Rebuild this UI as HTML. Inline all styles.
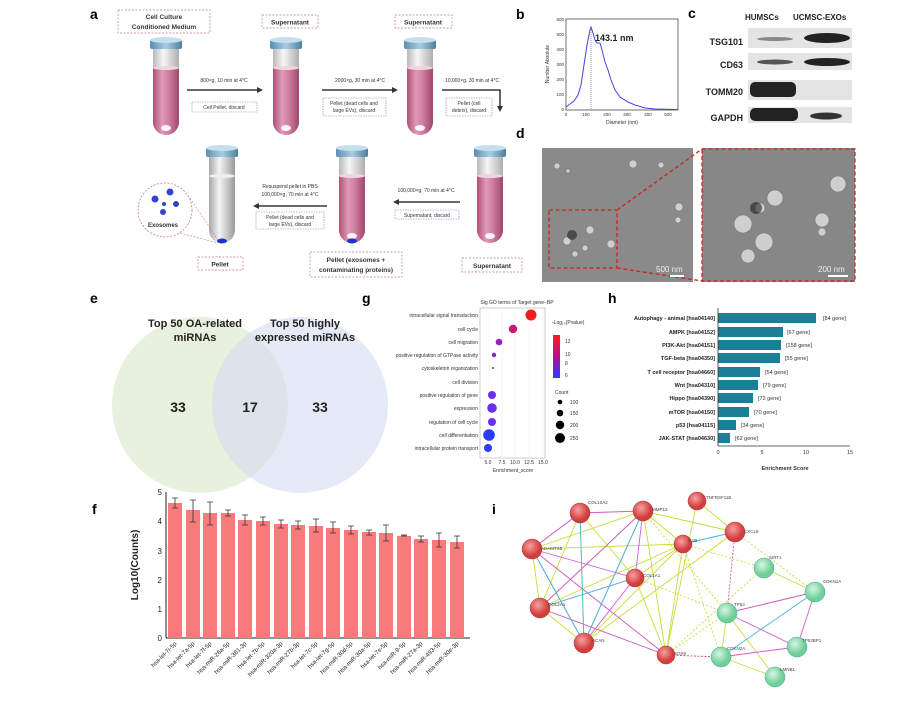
<!DOCTYPE html>
<html><head><meta charset="utf-8"><style>
body{margin:0;background:#fff}
svg{display:block;font-family:"Liberation Sans",sans-serif}
</style></head><body>
<svg width="900" height="701" viewBox="0 0 900 701" xmlns="http://www.w3.org/2000/svg">
<defs>
<linearGradient id="tg" x1="0" x2="1"><stop offset="0" stop-color="#b04f77"/><stop offset="0.35" stop-color="#df9ab6"/><stop offset="0.6" stop-color="#d07fa0"/><stop offset="1" stop-color="#a0466b"/></linearGradient>
<linearGradient id="gg" x1="0" x2="1"><stop offset="0" stop-color="#a8a8a8"/><stop offset="0.4" stop-color="#f4f4f4"/><stop offset="1" stop-color="#9a9a9a"/></linearGradient>
<linearGradient id="cap" x1="0" x2="1"><stop offset="0" stop-color="#5b8fb0"/><stop offset="0.5" stop-color="#a8cde2"/><stop offset="1" stop-color="#4b7f9f"/></linearGradient>
<linearGradient id="cb" x1="0" y1="0" x2="0" y2="1"><stop offset="0" stop-color="#ff1a1a"/><stop offset="0.5" stop-color="#b0148c"/><stop offset="1" stop-color="#2a3bff"/></linearGradient>
<radialGradient id="rn" cx="0.4" cy="0.35"><stop offset="0" stop-color="#f7a0a0"/><stop offset="1" stop-color="#d23d3d"/></radialGradient>
<radialGradient id="gn" cx="0.4" cy="0.35"><stop offset="0" stop-color="#d6f5e3"/><stop offset="1" stop-color="#6fcf99"/></radialGradient>
<g id="tube">
<path d="M-13,8 L-13,82 A13,13 0 0 0 13,82 L13,8 Z" fill="url(#gg)" opacity="0.8"/>
<path d="M-13,28 L-13,82 A13,13 0 0 0 13,82 L13,28 Z" fill="url(#tg)"/>
<ellipse cx="0" cy="28" rx="13" ry="2" fill="#f2d3e0"/>
<ellipse cx="0" cy="88" rx="5" ry="3" fill="#fff" opacity="0.9"/>
<rect x="-16" y="0" width="32" height="9" rx="2" fill="url(#cap)"/>
<ellipse cx="0" cy="0" rx="16" ry="3" fill="#c6dfee"/>
</g>
<g id="gtube">
<path d="M-13,8 L-13,82 A13,13 0 0 0 13,82 L13,8 Z" fill="url(#gg)"/>
<ellipse cx="0" cy="28" rx="13" ry="2" fill="#eee"/>
<rect x="-16" y="0" width="32" height="9" rx="2" fill="url(#cap)"/>
<ellipse cx="0" cy="0" rx="16" ry="3" fill="#c6dfee"/>
</g>
</defs>
<rect width="900" height="701" fill="#fff"/>

<!-- panel a -->
<text x="90" y="19" font-size="14" font-weight="bold">a</text>
<g font-size="6" text-anchor="middle" fill="#333">
<rect x="118" y="10" width="92" height="23" fill="none" stroke="#c57a8a" stroke-dasharray="2,1.5" stroke-width="0.7"/>
<text x="164" y="19" font-weight="bold" font-size="6.5">Cell Culture</text><text x="164" y="29" font-weight="bold" font-size="6.5">Conditioned Medium</text>
<rect x="262" y="15" width="56" height="13" fill="none" stroke="#c57a8a" stroke-dasharray="2,1.5" stroke-width="0.7"/>
<text x="290" y="24.5" font-weight="bold" font-size="6.5">Supernatant</text>
<rect x="395" y="15" width="57" height="13" fill="none" stroke="#c57a8a" stroke-dasharray="2,1.5" stroke-width="0.7"/>
<text x="423" y="24.5" font-weight="bold" font-size="6.5">Supernatant</text>
<use href="#tube" x="166" y="40"/><use href="#tube" x="286" y="40"/><use href="#tube" x="420" y="40"/>
<use href="#gtube" x="222" y="148"/><use href="#tube" x="352" y="148"/><use href="#tube" x="490" y="148"/>
<ellipse cx="222" cy="241" rx="5" ry="2.5" fill="#2233cc"/>
<ellipse cx="352" cy="241" rx="5" ry="2.5" fill="#2233cc"/>
<line x1="187" y1="90" x2="258" y2="90" stroke="#111" stroke-width="1.3"/><path d="M263,90 l-6,-3 v6z"/>
<text x="224" y="82" font-size="5">800×g, 10 min at 4°C</text>
<rect x="192" y="102" width="65" height="10" fill="none" stroke="#8877bb" stroke-dasharray="1.5,1" stroke-width="0.6"/><text x="224" y="109" font-size="5">Cell Pellet, discard</text>
<line x1="322" y1="90" x2="393" y2="90" stroke="#111" stroke-width="1.3"/><path d="M398,90 l-6,-3 v6z"/>
<text x="360" y="82" font-size="5">2000×g, 30 min at 4°C</text>
<rect x="323" y="98" width="63" height="18" fill="none" stroke="#8877bb" stroke-dasharray="1.5,1" stroke-width="0.6"/><text x="354" y="105" font-size="5">Pellet (dead cells and</text><text x="354" y="112" font-size="5">large EVs), discard</text>
<path d="M442,90 H500 V107" fill="none" stroke="#111" stroke-width="1.3"/><path d="M500,112 l-3,-6 h6z"/>
<text x="472" y="82" font-size="5">10,000×g, 30 min at 4°C</text>
<rect x="446" y="98" width="46" height="18" fill="none" stroke="#8877bb" stroke-dasharray="1.5,1" stroke-width="0.6"/><text x="469" y="105" font-size="5">Pellet (cell</text><text x="469" y="112" font-size="5">debris), discard</text>
<line x1="398" y1="202" x2="460" y2="202" stroke="#111" stroke-width="1.3"/><path d="M393,202 l6,-3 v6z"/>
<text x="426" y="192" font-size="5">100,000×g, 70 min at 4°C</text>
<rect x="395" y="210" width="64" height="9" fill="none" stroke="#8877bb" stroke-dasharray="1.5,1" stroke-width="0.6"/><text x="427" y="217" font-size="5">Supernatant, discard</text>
<line x1="258" y1="206" x2="327" y2="206" stroke="#111" stroke-width="1.3"/><path d="M253,206 l6,-3 v6z"/>
<text x="290" y="188" font-size="5">Resuspend pellet in PBS</text><text x="290" y="196" font-size="5">100,000×g, 70 min at 4°C</text>
<rect x="256" y="212" width="68" height="17" fill="none" stroke="#8877bb" stroke-dasharray="1.5,1" stroke-width="0.6"/><text x="290" y="219" font-size="5">Pellet (dead cells and</text><text x="290" y="226" font-size="5">large EVs), discard</text>
<circle cx="165" cy="210" r="27" fill="#fff" stroke="#c57a8a" stroke-dasharray="2,1.5" stroke-width="0.8"/>
<line x1="180" y1="233" x2="218" y2="243" stroke="#c57a8a" stroke-dasharray="2,1.5" stroke-width="0.6"/>
<line x1="190" y1="198" x2="218" y2="240" stroke="#c57a8a" stroke-dasharray="2,1.5" stroke-width="0.6"/>
<circle cx="155" cy="199" r="3.5" fill="#3344cc"/><circle cx="170" cy="192" r="3.5" fill="#3344cc"/><circle cx="164" cy="204" r="2" fill="#3344cc"/><circle cx="176" cy="204" r="3" fill="#3344cc"/><circle cx="163" cy="212" r="3" fill="#3344cc"/>
<text x="163" y="227" font-size="6" font-weight="bold">Exosomes</text>
<rect x="198" y="257" width="45" height="13" fill="none" stroke="#c57a8a" stroke-dasharray="2,1.5" stroke-width="0.7"/><text x="220" y="266.5" font-weight="bold" font-size="6.5">Pellet</text>
<rect x="310" y="252" width="92" height="25" fill="none" stroke="#c57a8a" stroke-dasharray="2,1.5" stroke-width="0.7"/><text x="356" y="262" font-weight="bold" font-size="6.5">Pellet (exosomes +</text><text x="356" y="272" font-weight="bold" font-size="6.5">contaminating proteins)</text>
<rect x="462" y="258" width="60" height="14" fill="none" stroke="#c57a8a" stroke-dasharray="2,1.5" stroke-width="0.7"/><text x="492" y="268" font-weight="bold" font-size="6.5">Supernatant</text>
</g>

<!-- panel b -->
<text x="516" y="19" font-size="14" font-weight="bold">b</text>
<rect x="566" y="19" width="112" height="91" fill="none" stroke="#333" stroke-width="0.7"/>
<g font-size="4.5" fill="#333" text-anchor="end">
<text x="564" y="21">600</text><text x="564" y="36">500</text><text x="564" y="51">400</text><text x="564" y="66">300</text><text x="564" y="81">200</text><text x="564" y="96">100</text><text x="564" y="111">0</text></g>
<g font-size="4.5" fill="#333" text-anchor="middle"><text x="566" y="116">0</text><text x="586" y="116">100</text><text x="607" y="116">200</text><text x="627" y="116">300</text><text x="648" y="116">400</text><text x="668" y="116">500</text></g>
<text x="622" y="124" font-size="5" text-anchor="middle" fill="#333">Diameter (nm)</text>
<text transform="translate(549,64) rotate(-90)" font-size="5" text-anchor="middle" fill="#333">Number Absolute</text>
<line x1="591" y1="28" x2="591" y2="110" stroke="#555" stroke-dasharray="1,1" stroke-width="0.6"/>
<polyline fill="none" stroke="#4444dd" stroke-width="1" points="566,107 570,104 574,101 578,95 581,85 584,65 587,45 590,30 591,27 593,33 595,40 597,43 600,43 602,50 605,62 608,70 611,80 615,90 620,97 628,102 635,105 645,108 655,109 678,109.5"/>
<text x="595" y="41" font-size="9" font-weight="bold" fill="#222">143.1 nm</text>

<!-- panel c -->
<text x="688" y="18" font-size="14" font-weight="bold">c</text>
<text x="745" y="20" font-size="8" fill="#222" font-weight="bold">HUMSCs</text>
<text x="793" y="20" font-size="8" fill="#222" font-weight="bold">UCMSC-EXOs</text>
<g font-size="9" font-weight="bold" fill="#222" text-anchor="end">
<text x="743" y="45">TSG101</text><text x="743" y="68">CD63</text><text x="743" y="95">TOMM20</text><text x="743" y="121">GAPDH</text></g>
<g fill="#e4e4e4"><rect x="748" y="28" width="104" height="20"/><rect x="748" y="53" width="104" height="17"/><rect x="748" y="80" width="104" height="20"/><rect x="748" y="107" width="104" height="16"/></g>
<g fill="#222">
<ellipse cx="775" cy="39" rx="18" ry="2" fill="#888"/><ellipse cx="827" cy="38" rx="23" ry="5"/>
<ellipse cx="775" cy="62" rx="18" ry="2.5" fill="#555"/><ellipse cx="827" cy="62" rx="23" ry="4"/>
<rect x="750" y="82" width="46" height="15" rx="5"/>
<rect x="750" y="108" width="48" height="13" rx="5"/><ellipse cx="826" cy="116" rx="16" ry="3.5" fill="#333"/>
</g>

<!-- panel d -->
<text x="516" y="138" font-size="14" font-weight="bold">d</text>
<rect x="542" y="148" width="151" height="134" fill="#8a8a8a"/>
<rect x="702" y="148" width="153" height="134" fill="#878787"/>
<g fill="#cfcfcf" stroke="#777" stroke-width="0.6">
<circle cx="557" cy="166" r="3"/><circle cx="633" cy="164" r="4"/><circle cx="661" cy="165" r="3"/><circle cx="679" cy="207" r="4"/><circle cx="611" cy="244" r="4"/><circle cx="590" cy="230" r="4"/><circle cx="585" cy="248" r="3"/><circle cx="567" cy="241" r="4"/><circle cx="575" cy="254" r="3"/><circle cx="678" cy="220" r="3"/><circle cx="568" cy="171" r="2"/>
<circle cx="775" cy="198" r="8"/><circle cx="760" cy="208" r="5"/><circle cx="743" cy="224" r="9"/><circle cx="764" cy="242" r="9"/><circle cx="748" cy="256" r="7"/><circle cx="822" cy="220" r="7"/><circle cx="822" cy="232" r="4"/><circle cx="838" cy="184" r="8"/>
</g>
<circle cx="572" cy="235" r="5" fill="#222" opacity="0.6"/>
<circle cx="756" cy="208" r="6" fill="#222" opacity="0.6"/>
<g fill="none" stroke="#d42020" stroke-width="1.3" stroke-dasharray="4,2.5">
<rect x="549" y="210" width="68" height="58"/>
<rect x="702" y="149" width="153" height="132"/>
<line x1="617" y1="210" x2="702" y2="149"/><line x1="617" y1="268" x2="702" y2="281"/>
</g>
<text x="656" y="272" font-size="8" fill="#eee">500 nm</text><rect x="670" y="275" width="14" height="2" fill="#fff"/>
<text x="818" y="272" font-size="8" fill="#eee">200 nm</text><rect x="828" y="275" width="20" height="2" fill="#fff"/>

<!-- panel e -->
<text x="90" y="303" font-size="14" font-weight="bold">e</text>
<circle cx="200" cy="405" r="88" fill="#d9e6c8" opacity="0.6"/>
<circle cx="300" cy="405" r="88" fill="#d4dcf0" opacity="0.6"/>
<g font-size="11" font-weight="bold" text-anchor="middle" fill="#222">
<text x="195" y="327">Top 50 OA-related</text><text x="195" y="341">miRNAs</text>
<text x="305" y="327">Top 50 highly</text><text x="305" y="341">expressed miRNAs</text>
<text x="178" y="412" font-size="14">33</text><text x="250" y="412" font-size="14">17</text><text x="320" y="412" font-size="14">33</text></g>

<!-- panel g -->
<text x="362" y="303" font-size="14" font-weight="bold">g</text>
<text x="517" y="304" font-size="5" text-anchor="middle" fill="#333">Sig GO terms of Target gene−BP</text>
<rect x="480" y="308" width="65" height="150" fill="#fff" stroke="#aaa" stroke-width="0.6"/>
<g stroke="#eee" stroke-width="0.5"><line x1="488" y1="308" x2="488" y2="458"/><line x1="502" y1="308" x2="502" y2="458"/><line x1="515" y1="308" x2="515" y2="458"/><line x1="529" y1="308" x2="529" y2="458"/><line x1="543" y1="308" x2="543" y2="458"/></g>
<g font-size="5" fill="#333" text-anchor="end">
<text x="478" y="317">intracellular signal transduction</text><text x="478" y="331">cell cycle</text><text x="478" y="344">cell migration</text><text x="478" y="357">positive regulation of GTPase activity</text><text x="478" y="370">cytoskeleton organization</text><text x="478" y="384">cell division</text><text x="478" y="397">positive regulation of gene</text><text x="478" y="410">expression</text><text x="478" y="424">regulation of cell cycle</text><text x="478" y="437">cell differentiation</text><text x="478" y="450">intracellular protein transport</text></g>
<circle cx="531" cy="315" r="5.5" fill="#f41c1c"/><circle cx="513" cy="329" r="4.2" fill="#cc1870"/><circle cx="499" cy="342" r="3.3" fill="#9a1fc0"/><circle cx="494" cy="355" r="2.2" fill="#8a22d0"/><circle cx="493" cy="368" r="1" fill="#7a2ae0"/><circle cx="492" cy="395" r="4" fill="#6a2ef0"/><circle cx="492" cy="408" r="4.8" fill="#6a2ef0"/><circle cx="492" cy="422" r="4" fill="#6a2ef0"/><circle cx="489" cy="435" r="5.8" fill="#2c3bff"/><circle cx="488" cy="448" r="4" fill="#2c3bff"/>
<g font-size="5" fill="#333" text-anchor="middle"><text x="488" y="464">5.0</text><text x="502" y="464">7.5</text><text x="515" y="464">10.0</text><text x="529" y="464">12.5</text><text x="543" y="464">15.0</text><text x="513" y="472">Enrichment_score</text></g>
<text x="552" y="324" font-size="5" fill="#333">-Log₁₀(Pvalue)</text>
<rect x="553" y="335" width="7" height="43" fill="url(#cb)"/>
<g font-size="5" fill="#333"><text x="565" y="343">12</text><text x="565" y="356">10</text><text x="565" y="365">8</text><text x="565" y="377">6</text>
<text x="555" y="394">Count</text><text x="570" y="404">100</text><text x="570" y="415">150</text><text x="570" y="427">200</text><text x="570" y="440">250</text></g>
<circle cx="560" cy="402" r="2.3"/><circle cx="560" cy="413" r="3.3"/><circle cx="560" cy="425" r="4.2"/><circle cx="560" cy="438" r="5"/>

<!-- panel h -->
<text x="608" y="303" font-size="14" font-weight="bold">h</text>
<g fill="#1d7f97">
<rect x="718" y="313" width="98" height="10"/><rect x="718" y="327" width="65" height="10"/><rect x="718" y="340" width="63" height="10"/><rect x="718" y="353" width="62" height="10"/><rect x="718" y="367" width="42" height="10"/><rect x="718" y="380" width="40" height="10"/><rect x="718" y="393" width="35" height="10"/><rect x="718" y="407" width="31" height="10"/><rect x="718" y="420" width="18" height="10"/><rect x="718" y="433" width="12" height="10"/></g>
<line x1="718" y1="308" x2="718" y2="446" stroke="#333" stroke-width="0.8"/><line x1="718" y1="446" x2="850" y2="446" stroke="#333" stroke-width="0.8"/>
<g font-size="5.5" font-weight="bold" fill="#222" text-anchor="end">
<text x="715" y="320">Autophagy - animal [hsa04140]</text><text x="715" y="334">AMPK [hsa04152]</text><text x="715" y="347">PI3K-Akt [hsa04151]</text><text x="715" y="360">TGF-beta [hsa04350]</text><text x="715" y="374">T cell receptor [hsa04660]</text><text x="715" y="387">Wnt [hsa04310]</text><text x="715" y="400">Hippo [hsa04390]</text><text x="715" y="414">mTOR [hsa04150]</text><text x="715" y="427">p53 [hsa04115]</text><text x="715" y="440">JAK-STAT [hsa04630]</text></g>
<g font-size="5.5" fill="#333">
<text x="823" y="320">[84 gene]</text><text x="787" y="334">[67 gene]</text><text x="786" y="347">[158 gene]</text><text x="785" y="360">[55 gene]</text><text x="765" y="374">[54 gene]</text><text x="763" y="387">[79 gene]</text><text x="758" y="400">[72 gene]</text><text x="754" y="414">[70 gene]</text><text x="741" y="427">[34 gene]</text><text x="735" y="440">[62 gene]</text></g>
<g font-size="5.5" fill="#333" text-anchor="middle"><text x="718" y="454">0</text><text x="762" y="454">5</text><text x="806" y="454">10</text><text x="850" y="454">15</text><text x="785" y="470" font-weight="bold">Enrichment Score</text></g>

<!-- panel f -->
<text x="92" y="514" font-size="14" font-weight="bold">f</text>
<line x1="166" y1="492" x2="166" y2="638" stroke="#222" stroke-width="1"/><line x1="166" y1="638" x2="470" y2="638" stroke="#222" stroke-width="1"/>
<g font-size="8" text-anchor="end" fill="#222"><text x="162" y="641">0</text><text x="162" y="612">1</text><text x="162" y="583">2</text><text x="162" y="554">3</text><text x="162" y="524">4</text><text x="162" y="495">5</text></g>
<text transform="translate(138,565) rotate(-90)" font-size="10" font-weight="bold" text-anchor="middle" fill="#222">Log10(Counts)</text>
<g fill="#f87a7b">
<rect x="168" y="503" width="14" height="135"/><rect x="186" y="510" width="14" height="128"/><rect x="203" y="513" width="14" height="125"/><rect x="221" y="513" width="14" height="125"/><rect x="238" y="520" width="14" height="118"/><rect x="256" y="521" width="14" height="117"/><rect x="274" y="524" width="14" height="114"/><rect x="291" y="525" width="14" height="113"/><rect x="309" y="526" width="14" height="112"/><rect x="326" y="528" width="14" height="110"/><rect x="344" y="530" width="14" height="108"/><rect x="362" y="532" width="14" height="106"/><rect x="379" y="533" width="14" height="105"/><rect x="397" y="536" width="14" height="102"/><rect x="414" y="539" width="14" height="99"/><rect x="432" y="540" width="14" height="98"/><rect x="450" y="542" width="14" height="96"/></g>
<g stroke="#333" stroke-width="0.8" fill="none">
<path d="M175,498v10m-3,-10h6m-6,10h6"/><path d="M193,500v22m-3,-22h6m-6,22h6"/><path d="M210,502v23m-3,-23h6m-6,23h6"/><path d="M228,510v6m-3,-6h6m-6,6h6"/><path d="M245,515v10m-3,-10h6m-6,10h6"/><path d="M263,517v8m-3,-8h6m-6,8h6"/><path d="M281,520v8m-3,-8h6m-6,8h6"/><path d="M298,521v8m-3,-8h6m-6,8h6"/><path d="M316,519v13m-3,-13h6m-6,13h6"/><path d="M333,522v11m-3,-11h6m-6,11h6"/><path d="M351,526v8m-3,-8h6m-6,8h6"/><path d="M369,530v5m-3,-5h6m-6,5h6"/><path d="M386,525v16m-3,-16h6m-6,16h6"/><path d="M404,535v1m-3,-1h6m-6,1h6"/><path d="M421,536v6m-3,-6h6m-6,6h6"/><path d="M439,533v14m-3,-14h6m-6,14h6"/><path d="M457,536v12m-3,-12h6m-6,12h6"/></g>
<g font-size="6" fill="#222" text-anchor="end">
<text transform="translate(177,644) rotate(-45)">hsa-let-7i-5p</text><text transform="translate(195,644) rotate(-45)">hsa-let-7a-5p</text><text transform="translate(212,644) rotate(-45)">hsa-let-7f-5p</text><text transform="translate(230,644) rotate(-45)">hsa-miR-26a-5p</text><text transform="translate(247,644) rotate(-45)">hsa-miR-381-3p</text><text transform="translate(265,644) rotate(-45)">hsa-let-7b-5p</text><text transform="translate(283,644) rotate(-45)">hsa-miR-320a-3p</text><text transform="translate(300,644) rotate(-45)">hsa-miR-27b-3p</text><text transform="translate(318,644) rotate(-45)">hsa-let-7c-5p</text><text transform="translate(335,644) rotate(-45)">hsa-let-7g-5p</text><text transform="translate(353,644) rotate(-45)">hsa-miR-30d-5p</text><text transform="translate(371,644) rotate(-45)">hsa-miR-30a-5p</text><text transform="translate(388,644) rotate(-45)">hsa-let-7e-5p</text><text transform="translate(406,644) rotate(-45)">hsa-miR-9-5p</text><text transform="translate(423,644) rotate(-45)">hsa-miR-27a-3p</text><text transform="translate(441,644) rotate(-45)">hsa-miR-493-5p</text><text transform="translate(459,644) rotate(-45)">hsa-miR-30e-3p</text></g>

<!-- panel i -->
<text x="492" y="514" font-size="14" font-weight="bold">i</text>
<g stroke-width="0.9" fill="none">
<g stroke="#c8dc3a">
<path d="M580,513L643,511M580,513L532,549M580,513L635,578M580,513L584,643M643,511L683,544M643,511L540,608M643,511L666,655M643,511L532,549M683,544L532,549M683,544L540,608M683,544L584,643M683,544L666,655M683,544L635,578M697,501L735,532M697,501L666,655M532,549L666,655M540,608L666,655M540,608L584,643M635,578L666,655M735,532L584,643M727,613L815,592M727,613L721,657M727,613L775,677M764,568L815,592M721,657L797,647M721,657L775,677M532,549L540,608M580,513L540,608M643,511L735,532"/>
</g>
<g stroke="#d25adb">
<path d="M580,513L643,511M643,511L584,643M643,511L635,578M532,549L584,643M532,549L666,655M540,608L635,578M540,608L666,655M532,549L635,578M643,511L540,608M727,613L797,647M727,613L815,592M721,657L797,647M815,592L797,647M635,578L584,643M580,513L532,549"/>
</g>
<g stroke="#44bbd8">
<path d="M580,513L584,643M643,511L584,643M540,608L635,578M683,544L735,532M532,549L584,643M721,657L815,592"/>
</g>
<g stroke="#c8dc3a" stroke-dasharray="2,2"><path d="M735,532L815,592M683,544L764,568M643,511L727,613M683,544L721,657M666,655L764,568M666,655L727,613M635,578L727,613"/></g>
<path d="M666,655L721,657" stroke="#d04080" stroke-dasharray="2,1.5"/>
<path d="M735,532L727,613" stroke="#c060c0" stroke-dasharray="2,1.5"/>
</g>
<g stroke="#a33" stroke-width="0.5">
<circle cx="580" cy="513" r="10" fill="url(#rn)"/><circle cx="643" cy="511" r="10" fill="url(#rn)"/><circle cx="697" cy="501" r="9" fill="url(#rn)"/><circle cx="735" cy="532" r="10" fill="url(#rn)"/><circle cx="683" cy="544" r="9" fill="url(#rn)"/><circle cx="532" cy="549" r="10" fill="url(#rn)"/><circle cx="635" cy="578" r="9" fill="url(#rn)"/><circle cx="540" cy="608" r="10" fill="url(#rn)"/><circle cx="584" cy="643" r="10" fill="url(#rn)"/><circle cx="666" cy="655" r="9" fill="url(#rn)"/></g>
<g stroke="#4a9" stroke-width="0.5">
<circle cx="764" cy="568" r="10" fill="url(#gn)"/><circle cx="815" cy="592" r="10" fill="url(#gn)"/><circle cx="727" cy="613" r="10" fill="url(#gn)"/><circle cx="721" cy="657" r="10" fill="url(#gn)"/><circle cx="797" cy="647" r="10" fill="url(#gn)"/><circle cx="775" cy="677" r="10" fill="url(#gn)"/></g>
<g font-size="4.5" fill="#444">
<text x="588" y="504">COL10A2</text><text x="652" y="511">MMP13</text><text x="706" y="499">TNFRSF11B</text><text x="744" y="533">CXCL8</text><text x="688" y="542">IL1B</text><text x="541" y="550">ADAMTS5</text><text x="643" y="577">COL1A1</text><text x="548" y="606">COL2A1</text><text x="592" y="642">ACAN</text><text x="674" y="655">SOX9</text><text x="769" y="559">SIRT1</text><text x="823" y="583">CDKN1A</text><text x="734" y="606">TP53</text><text x="727" y="650">CDKN2A</text><text x="802" y="642">TP53BP1</text><text x="780" y="671">LMNB1</text></g>
</svg>
</body></html>
